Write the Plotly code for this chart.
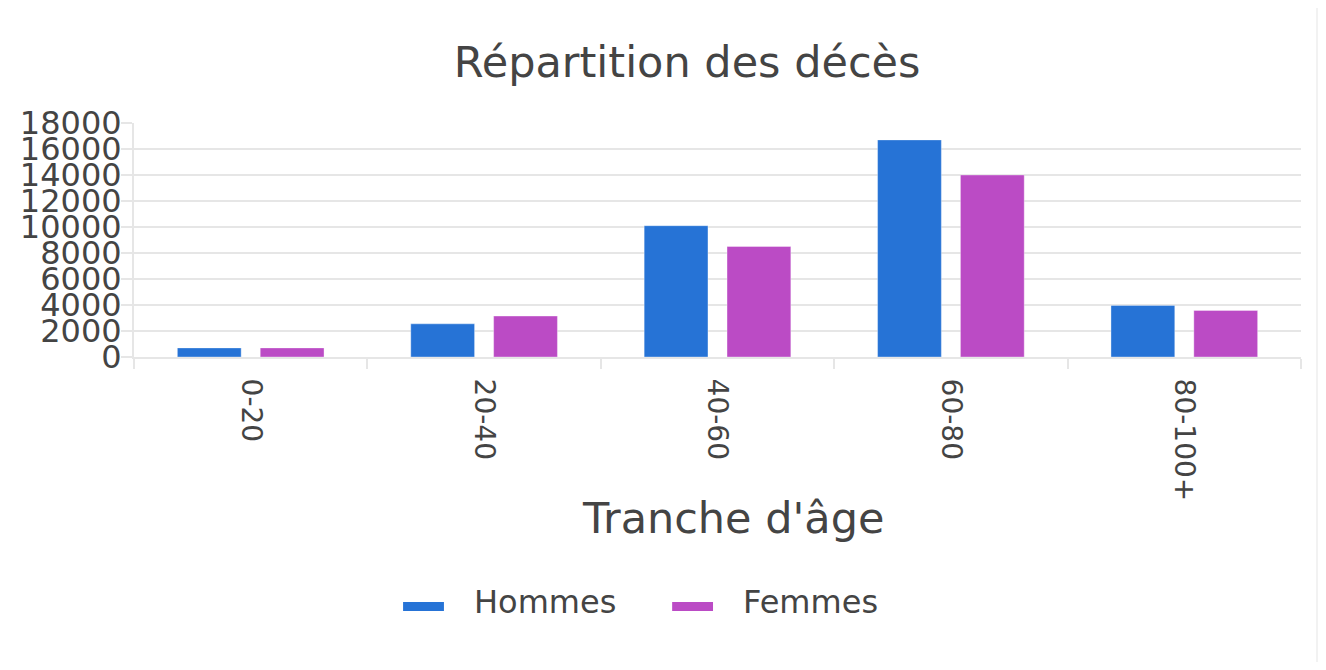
import plotly.graph_objects as go

# ---- data ----
categories = ["0-20", "20-40", "40-60", "60-80", "80-100+"]
hommes = [700, 2550, 10100, 16700, 3970]
femmes = [700, 3150, 8500, 14000, 3580]
series_names = ["Hommes", "Femmes"]
series_colors = ["#2673d6", "#bb4bc5"]
y_ticks = [0, 2000, 4000, 6000, 8000, 10000, 12000, 14000, 16000, 18000]
title_text = "Répartition des décès"
x_title_text = "Tranche d'âge"

# ---- geometry (pixels; page body has an 8px margin) ----
OFF = 8
W, H = 1310, 654
L, R, T, B = 122, 1310 - (1301 - OFF), 115, 654 - (357 - OFF)
PW, PH = W - L - R, H - T - B

def px_x(x):
    return (x - OFF - L) / PW

def px_y(y):
    return (H - B - (y - OFF)) / PH

FONT = "DejaVu Sans"
TXT = "#444444"
GRID = "#e6e6e6"

fig = go.Figure()
for name, vals, col in zip(series_names, [hommes, femmes], series_colors):
    fig.add_trace(go.Bar(
        x=categories, y=vals, name=name,
        marker=dict(color=col, line=dict(color="rgba(255,255,255,0.35)", width=1)),
        showlegend=False,
    ))

shapes = [
    dict(type="rect", xref="paper", yref="paper", layer="below",
         x0=px_x(0), x1=px_x(1316), y0=px_y(720), y1=px_y(0),
         fillcolor="white", line=dict(width=0)),
]
annotations = [
    dict(text=x_title_text, xref="paper", yref="paper", x=px_x(731), y=px_y(518),
         xanchor="center", yanchor="middle", showarrow=False,
         font=dict(family=FONT, size=43, color=TXT)),
]
# manual legend
leg_x = [400, 670]
for name, col, lx in zip(series_names, series_colors, leg_x):
    shapes.append(dict(type="rect", xref="paper", yref="paper",
                       x0=px_x(lx), x1=px_x(lx + 41), y0=px_y(611), y1=px_y(602),
                       fillcolor=col, line=dict(width=0)))
    annotations.append(dict(text=name, xref="paper", yref="paper",
                            x=px_x(lx + 69), y=px_y(602), xanchor="left", yanchor="middle",
                            showarrow=False, font=dict(family=FONT, size=32, color=TXT)))

fig.update_layout(
    width=W, height=H,
    margin=dict(l=L, r=R, t=T, b=B, pad=0),
    paper_bgcolor="#f2f2f2",
    plot_bgcolor="white",
    font=dict(family=FONT, color=TXT),
    title=dict(text=title_text, x=px_x(685), xref="paper", xanchor="center",
               y=1 - (62 - OFF) / H, yref="container", yanchor="middle",
               font=dict(family=FONT, size=43, color=TXT)),
    barmode="group",
    bargap=0.29,
    bargroupgap=0.23,
    showlegend=False,
    shapes=shapes,
    annotations=annotations,
    xaxis=dict(
        type="category",
        tickangle=90,
        tickfont=dict(family=FONT, size=28, color=TXT),
        ticks="outside", tickson="boundaries", ticklen=10, tickwidth=2, tickcolor=GRID,
        ticklabelstandoff=14,
        showline=True, linecolor=GRID, linewidth=2,
        showgrid=False,
    ),
    yaxis=dict(
        range=[0, 18000],
        tickvals=y_ticks,
        ticktext=[str(v) for v in y_ticks],
        tickfont=dict(family=FONT, size=32, color=TXT),
        ticks="outside", ticklen=11, tickwidth=2, tickcolor=GRID,
        ticklabelstandoff=-7,
        showline=True, linecolor=GRID, linewidth=2,
        showgrid=True, gridcolor=GRID, gridwidth=2,
        zeroline=False,
    ),
)

fig.write_html("out.html")
